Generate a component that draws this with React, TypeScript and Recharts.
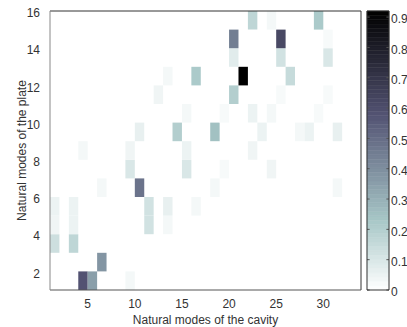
import { ScatterChart, Scatter, XAxis, YAxis, ReferenceArea, ReferenceLine } from 'recharts';

// pcolor cells: cavity mode (x), plate mode (y), normalised coupling value
const cavityModes = [4, 5, 9, 6, 1, 3, 1, 3, 1, 3, 11, 11, 13, 13, 16, 6, 10, 18, 31, 9, 15, 19, 24, 4, 9, 15, 22, 10, 14, 18, 23, 27, 28, 31, 15, 19, 22, 24, 29, 12, 20, 25, 30, 13, 16, 21, 26, 20, 25, 30, 20, 25, 30, 22, 24, 29];
const plateModes = [1, 1, 1, 2, 3, 3, 4, 4, 5, 5, 4, 5, 4, 5, 5, 6, 6, 6, 6, 7, 7, 7, 7, 8, 8, 8, 8, 9, 9, 9, 9, 9, 9, 9, 10, 10, 10, 10, 10, 11, 11, 11, 11, 12, 12, 12, 12, 13, 13, 13, 14, 14, 14, 15, 15, 15];
const coupling = [0.58, 0.35, 0.03, 0.38, 0.13, 0.17, 0.04, 0.05, 0.05, 0.05, 0.12, 0.12, 0.03, 0.06, 0.03, 0.03, 0.48, 0.03, 0.03, 0.1, 0.1, 0.02, 0.04, 0.03, 0.04, 0.05, 0.04, 0.06, 0.2, 0.25, 0.05, 0.03, 0.05, 0.06, 0.03, 0.02, 0.05, 0.03, 0.02, 0.04, 0.2, 0.02, 0.02, 0.03, 0.22, 0.95, 0.15, 0.08, 0.12, 0.1, 0.45, 0.62, 0.02, 0.17, 0.03, 0.22];

const xTicks = [5, 10, 15, 20, 25, 30];
const yTicks = [2, 4, 6, 8, 10, 12, 14, 16];
const barTicks = [0, 0.1, 0.2, 0.3, 0.4, 0.5, 0.6, 0.7, 0.8, 0.9];
const xDomain = [1, 34];
const yDomain = [1, 16];
const cMax = 0.92;
const levels = 64;

const clamp = (v: number) => Math.max(0, Math.min(1, v));

// flipud(bone) colormap
const boneColor = (v: number) => {
  const t = 1 - clamp(v / cMax);
  const hr = clamp(t / 0.375);
  const hg = clamp((t - 0.375) / 0.375);
  const hb = clamp((t - 0.75) / 0.25);
  const r = (7 * t + hb) / 8;
  const g = (7 * t + hg) / 8;
  const b = (7 * t + hr) / 8;
  const h = (x: number) => Math.round(x * 255).toString(16).padStart(2, '0');
  return '#' + h(r) + h(g) + h(b);
};

const cells = cavityModes.map((x, i) => ({ x, y: plateModes[i], v: coupling[i] }));
const strips = Array.from({ length: levels }, (_, k) => ({
  x: 0.5,
  y: ((k + 0.5) * cMax) / levels,
  y1: (k * cMax) / levels,
  y2: ((k + 1) * cMax) / levels,
  c: boneColor(((k + 0.5) * cMax) / levels),
}));

const font = { fill: '#333', fontSize: 12, fontFamily: 'Liberation Sans, Arial, sans-serif' };

const YLabel = (props: any) => {
  const vb = props.viewBox;
  const cx = vb.x + 22;
  const cy = vb.y + vb.height / 2;
  return (
    <text x={cx} y={cy} transform={`rotate(-90 ${cx} ${cy})`} textAnchor="middle" dominantBaseline="central" {...font}>
      Natural modes of the plate
    </text>
  );
};

export default function App() {
  return (
    <div style={{ position: 'absolute', left: 0, top: 0, width: 407, height: 327, background: '#fff' }}>
      <div style={{ position: 'absolute', left: 0, top: 0 }}>
        <ScatterChart width={407} height={327} margin={{ top: 11, right: 46, bottom: 0, left: 0 }}>
          <XAxis
            type="number"
            dataKey="x"
            domain={xDomain}
            ticks={xTicks}
            height={37}
            tickSize={0}
            tickMargin={9}
            allowDataOverflow
            axisLine={{ stroke: '#555' }}
            tick={font}
            label={{ value: 'Natural modes of the cavity', position: 'insideBottom', offset: 3, ...font }}
          />
          <YAxis
            type="number"
            dataKey="y"
            domain={yDomain}
            ticks={yTicks}
            width={50}
            tickSize={0}
            tickMargin={10}
            allowDataOverflow
            axisLine={{ stroke: '#888' }}
            tick={{ ...font, dy: 2 }}
            label={<YLabel />}
          />
          {cells.map((c, i) => (
            <ReferenceArea
              key={i}
              x1={c.x}
              x2={c.x + 1}
              y1={c.y}
              y2={c.y + 1}
              fill={boneColor(c.v)}
              fillOpacity={1}
              stroke="none"
              ifOverflow="visible"
            />
          ))}
          <ReferenceLine y={yDomain[1]} stroke="#333" ifOverflow="visible" />
          <ReferenceLine x={xDomain[1]} stroke="#333" ifOverflow="visible" />
          <Scatter data={cells} isAnimationActive={false} shape={() => <g />} />
        </ScatterChart>
      </div>
      <div style={{ position: 'absolute', left: 0, top: 0 }}>
        <ScatterChart width={407} height={327} margin={{ top: 11, right: 0, bottom: 37, left: 367 }}>
          <XAxis type="number" dataKey="x" domain={[0, 1]} height={0} tick={false} tickLine={false} axisLine={false} allowDataOverflow />
          <YAxis
            type="number"
            dataKey="y"
            orientation="right"
            domain={[0, cMax]}
            ticks={barTicks}
            width={18}
            tickSize={0}
            tickMargin={2}
            axisLine={false}
            tickLine={false}
            allowDataOverflow
            tick={{ ...font, dy: 2 }}
            tickFormatter={(v: number) => String(v)}
          />
          {strips.map((s, i) => (
            <ReferenceArea key={i} x1={0} x2={1} y1={s.y1} y2={s.y2} fill={s.c} fillOpacity={1} stroke={s.c} strokeWidth={0.5} ifOverflow="visible" />
          ))}
          {barTicks.map((t) => (
            <ReferenceLine key={'l' + t} segment={[{ x: 0, y: t }, { x: 0.12, y: t }]} stroke="#555" ifOverflow="visible" />
          ))}
          {barTicks.map((t) => (
            <ReferenceLine key={'r' + t} segment={[{ x: 0.88, y: t }, { x: 1, y: t }]} stroke="#555" ifOverflow="visible" />
          ))}
          <ReferenceLine x={0} stroke="#333" ifOverflow="visible" />
          <ReferenceLine x={1} stroke="#333" ifOverflow="visible" />
          <ReferenceLine y={0} stroke="#333" ifOverflow="visible" />
          <ReferenceLine y={cMax} stroke="#333" ifOverflow="visible" />
          <Scatter data={strips} isAnimationActive={false} shape={() => <g />} />
        </ScatterChart>
      </div>
    </div>
  );
}
